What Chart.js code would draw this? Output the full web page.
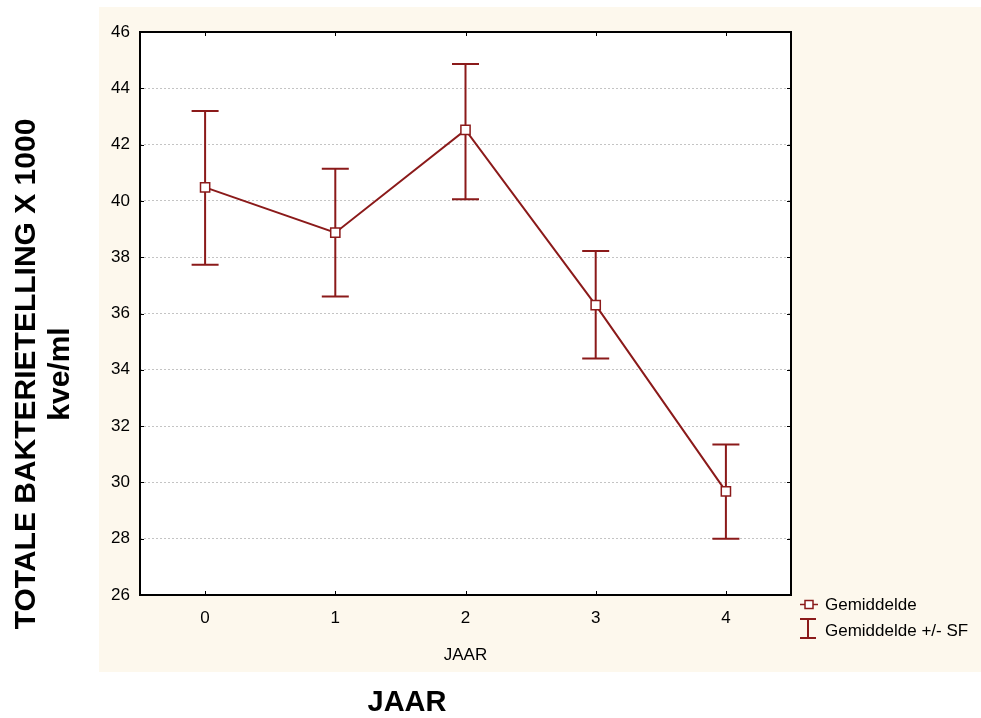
<!DOCTYPE html>
<html>
<head>
<meta charset="utf-8">
<script src="https://cdn.jsdelivr.net/npm/chart.js@4/dist/chart.umd.min.js"></script>
<style>
html,body{margin:0;padding:0;background:#ffffff;}
#c{display:block;}
</style>
</head>
<body>
<canvas id="c" width="981" height="718"></canvas>
<script>
const categories = ['0', '1', '2', '3', '4'];
const meanValues = [40.48, 38.87, 42.52, 36.30, 29.68];
const upperValues = [43.19, 41.14, 44.86, 38.22, 31.35];
const lowerValues = [37.73, 36.60, 40.06, 34.40, 28.00];
const yMin = 26, yMax = 46, yStep = 2;
const xAxisLabel = 'JAAR';
const yTitleLines = ['TOTALE BAKTERIETELLING X 1000', 'kve/ml'];
const legendLabels = ['Gemiddelde', 'Gemiddelde +/- SF'];

const RED = '#8b1a1a';
const BEIGE = '#fdf8ed';
const FONT = "'Liberation Sans', Arial, sans-serif";

const decor = {
  id: 'decor',
  beforeDraw(chart) {
    const ctx = chart.ctx, a = chart.chartArea;
    ctx.save();
    ctx.fillStyle = '#ffffff';
    ctx.fillRect(0, 0, chart.width, chart.height);
    ctx.fillStyle = BEIGE;
    ctx.fillRect(99, 7, chart.width - 99, 665);
    ctx.fillStyle = '#ffffff';
    ctx.fillRect(a.left, a.top, a.right - a.left, a.bottom - a.top);
    ctx.restore();
  },
  beforeDatasetsDraw(chart) {
    const ctx = chart.ctx, xs = chart.scales.x, ys = chart.scales.y;
    ctx.save();
    ctx.strokeStyle = RED;
    ctx.lineWidth = 2;
    categories.forEach((c, i) => {
      const x = xs.getPixelForValue(i);
      const yt = ys.getPixelForValue(upperValues[i]);
      const yb = ys.getPixelForValue(lowerValues[i]);
      ctx.beginPath();
      ctx.moveTo(x, yt); ctx.lineTo(x, yb);
      ctx.moveTo(x - 13.5, yt); ctx.lineTo(x + 13.5, yt);
      ctx.moveTo(x - 13.5, yb); ctx.lineTo(x + 13.5, yb);
      ctx.stroke();
    });
    ctx.restore();
  },
  afterDraw(chart) {
    const ctx = chart.ctx, a = chart.chartArea, xs = chart.scales.x, ys = chart.scales.y;
    ctx.save();
    // frame
    ctx.strokeStyle = '#000000';
    ctx.lineWidth = 2;
    ctx.strokeRect(a.left, a.top, a.right - a.left, a.bottom - a.top);
    // inside ticks
    ctx.lineWidth = 1;
    ctx.beginPath();
    ys.ticks.forEach(t => {
      const y = Math.round(ys.getPixelForValue(t.value)) + 0.5;
      ctx.moveTo(a.left, y); ctx.lineTo(a.left + 4, y);
      ctx.moveTo(a.right, y); ctx.lineTo(a.right - 4, y);
    });
    categories.forEach((c, i) => {
      const x = Math.round(xs.getPixelForValue(i)) + 0.5;
      ctx.moveTo(x, a.bottom); ctx.lineTo(x, a.bottom - 4);
      ctx.moveTo(x, a.top); ctx.lineTo(x, a.top + 4);
    });
    ctx.stroke();

    // small x label
    ctx.fillStyle = '#000000';
    ctx.textAlign = 'center';
    ctx.textBaseline = 'middle';
    ctx.font = '17px ' + FONT;
    ctx.fillText(xAxisLabel, (a.left + a.right) / 2, 655);
    // big x title
    ctx.font = 'bold 29px ' + FONT;
    ctx.fillText(xAxisLabel, 407, 703);
    // y title
    ctx.font = 'bold 30px ' + FONT;
    ctx.save();
    ctx.translate(27, 374);
    ctx.rotate(-Math.PI / 2);
    ctx.fillText(yTitleLines[0], 0, 0);
    ctx.restore();
    ctx.save();
    ctx.translate(61, 374);
    ctx.rotate(-Math.PI / 2);
    ctx.fillText(yTitleLines[1], 0, 0);
    ctx.restore();

    // legend
    ctx.textAlign = 'left';
    ctx.font = '17px ' + FONT;
    ctx.fillStyle = '#000000';
    ctx.fillText(legendLabels[0], 825, 605);
    ctx.fillText(legendLabels[1], 825, 631);
    ctx.strokeStyle = RED;
    ctx.lineWidth = 1.5;
    ctx.beginPath();
    ctx.moveTo(800, 604.5); ctx.lineTo(818, 604.5);
    ctx.stroke();
    ctx.fillStyle = '#ffffff';
    ctx.lineWidth = 1.5;
    ctx.fillRect(805, 600.5, 8, 8);
    ctx.strokeRect(805, 600.5, 8, 8);
    ctx.lineWidth = 2;
    ctx.beginPath();
    ctx.moveTo(808, 619); ctx.lineTo(808, 638);
    ctx.moveTo(800, 619); ctx.lineTo(816, 619);
    ctx.moveTo(800, 638); ctx.lineTo(816, 638);
    ctx.stroke();
    ctx.restore();
  }
};

new Chart(document.getElementById('c'), {
  type: 'line',
  data: {
    labels: categories,
    datasets: [{
      label: legendLabels[0],
      data: meanValues,
      borderColor: RED,
      borderWidth: 2,
      backgroundColor: '#ffffff',
      pointStyle: 'rect',
      pointRadius: 6.5,
      pointBorderWidth: 1.5,
      pointBorderColor: RED,
      pointBackgroundColor: '#ffffff',
      tension: 0,
      fill: false
    }]
  },
  options: {
    responsive: false,
    animation: false,
    events: [],
    layout: { padding: { left: 100, top: 32, right: 190, bottom: 0 } },
    plugins: { legend: { display: false }, tooltip: { enabled: false }, title: { display: false } },
    scales: {
      x: {
        type: 'category',
        offset: true,
        grid: { display: false, drawTicks: false },
        border: { display: false },
        ticks: { color: '#000000', font: { family: FONT, size: 17 }, padding: 13, maxRotation: 0 },
        afterFit(s) { s.height = 123; }
      },
      y: {
        min: yMin, max: yMax,
        grid: { color: '#c4c4c4', lineWidth: 1, drawTicks: false },
        border: { display: false, dash: [2, 2] },
        ticks: { stepSize: yStep, color: '#000000', font: { family: FONT, size: 17 }, padding: 10 },
        afterFit(s) { s.width = 40; }
      }
    }
  },
  plugins: [decor]
});
</script>
</body>
</html>
